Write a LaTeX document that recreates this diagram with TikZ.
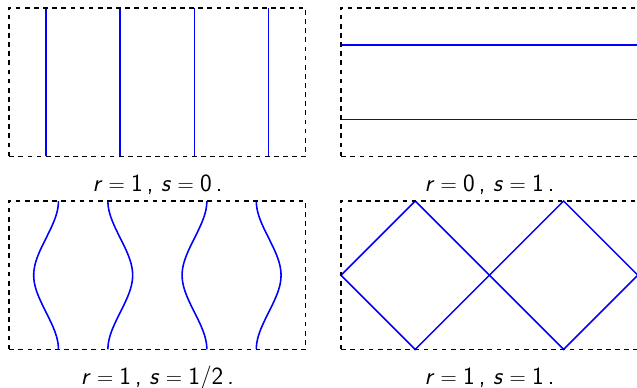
\documentclass[tikz,border=0pt]{standalone}
\newcommand{\rsval}[2]{{\sffamily\textit{r}${}={}$#1\,,\ \textit{s}${}={}$#2\,.}}
\tikzset{
  frame/.style={draw=black, line width=1.1pt, dash pattern=on 3.6pt off 3.4pt},
  curve/.style={draw=blue, line width=1.2pt},
  lab/.style={anchor=base, inner sep=0pt, font=\fontsize{19}{22}\selectfont}
}
\begin{document}
\begin{tikzpicture}[x=2cm,y=2cm]
\useasboundingbox (0,0) rectangle (8.585,5.216);
% top left: r=1, s=0
\begin{scope}[shift={(0.121,3.108)}]
  \foreach \x in {0.5,1.5,2.5,3.5} \draw[curve] (\x,0) -- (\x,2);
  \draw[frame] (0,0) rectangle (4,2);
  \node[lab] (l1) at (2,-0.468) {\rsval{1}{0}};
\end{scope}
% top right: r=0, s=1
\begin{scope}[shift={(4.596,3.108)}]
  \draw[curve] (0,0.5) -- (4,0.5);
  \draw[curve] (0,1.5) -- (4,1.5);
  \draw[frame] (0,0) rectangle (4,2);
  \node[lab] (l2) at (2,-0.468) {\rsval{0}{1}};
\end{scope}
% bottom left: r=1, s=1/2
\begin{scope}[shift={(0.121,0.507)}]
  \draw[curve] plot[domain=0:2, samples=81, smooth, variable=\t] ({acos(-0.5*cos(180*\t))/180}, \t);
  \draw[curve] plot[domain=0:2, samples=81, smooth, variable=\t] ({2-acos(-0.5*cos(180*\t))/180}, \t);
  \draw[curve] plot[domain=0:2, samples=81, smooth, variable=\t] ({2+acos(-0.5*cos(180*\t))/180}, \t);
  \draw[curve] plot[domain=0:2, samples=81, smooth, variable=\t] ({4-acos(-0.5*cos(180*\t))/180}, \t);
  \draw[frame] (0,0) rectangle (4,2);
  \node[lab] (l3) at (2,-0.468) {\rsval{1}{1/2}};
\end{scope}
% bottom right: r=1, s=1
\begin{scope}[shift={(4.596,0.507)}]
  \draw[curve] (0,1) -- (1,2) -- (2,1) -- (1,0) -- cycle;
  \draw[curve] (2,1) -- (3,2) -- (4,1) -- (3,0) -- cycle;
  \draw[frame] (0,0) rectangle (4,2);
  \node[lab] (l4) at (2,-0.468) {\rsval{1}{1}};
\end{scope}
\end{tikzpicture}
\end{document}
